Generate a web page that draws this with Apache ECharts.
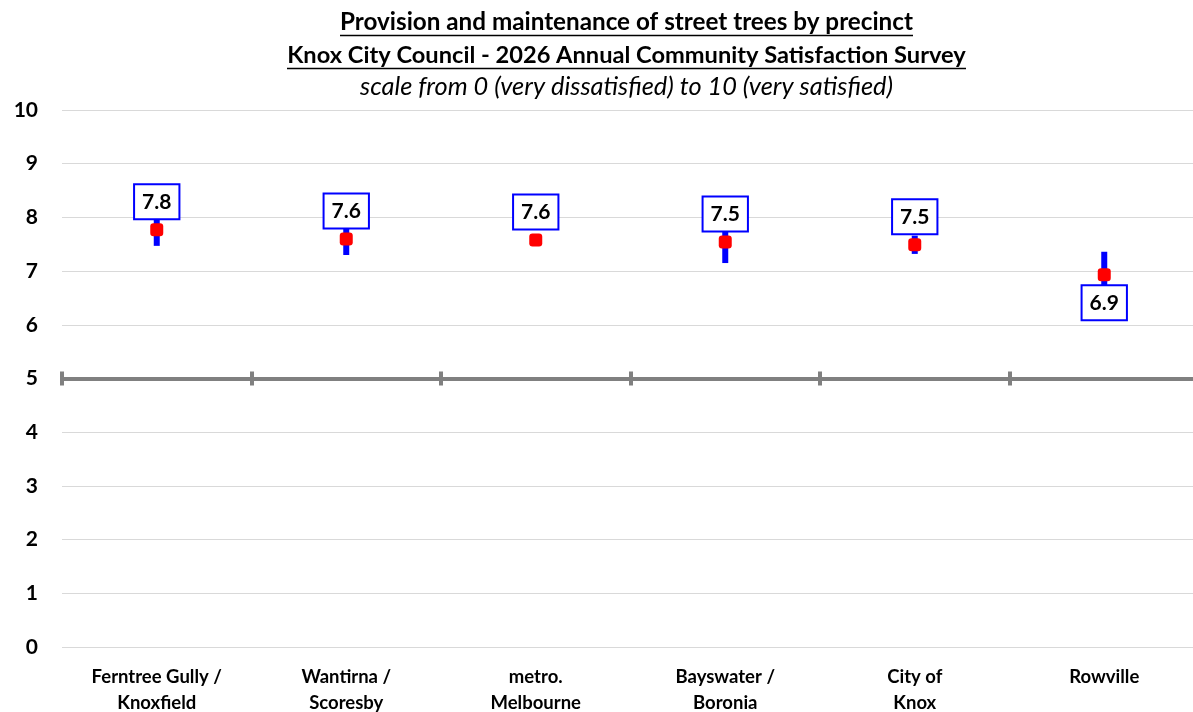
<!DOCTYPE html>
<html>
<head>
<meta charset="utf-8">
<script src="https://cdn.jsdelivr.net/npm/echarts@6/dist/echarts.min.js"></script>
<style>
html,body{margin:0;padding:0;background:#fff;}
#chart{width:1193px;height:712px;}
</style>
</head>
<body>
<div id="chart"></div>
<script>
// ---- data ----
const categories = ['Ferntree Gully /\nKnoxfield', 'Wantirna /\nScoresby', 'metro.\nMelbourne', 'Bayswater /\nBoronia', 'City of\nKnox', 'Rowville'];
const meanScores = [7.77, 7.60, 7.58, 7.54, 7.49, 6.93];
const lowerBounds = [7.47, 7.30, 7.53, 7.15, 7.32, 6.50];
const upperBounds = [8.07, 7.90, 7.63, 7.93, 7.66, 7.36];
const labelPlacement = ['top', 'top', 'top', 'top', 'top', 'bottom'];
const yMin = 0, yMax = 10, yInterval = 1;
const referenceValue = 5;
const titleLines = [
  'Provision and maintenance of street trees by precinct',
  'Knox City Council - 2026 Annual Community Satisfaction Survey',
  'scale from 0 (very dissatisfied) to 10 (very satisfied)'
];

// ---- layout ----
const FONT = 'Lato, "Open Sans", "DejaVu Sans", sans-serif';
const W = 1193, H = 712;
const gridLeft = 62, gridTop = 110, gridBottom = 65, gridRight = -6;
const plotH = H - gridTop - gridBottom;
const refOffset = -plotH * (referenceValue - yMin) / (yMax - yMin);

// fit title sizes to target widths
const ctx = document.createElement('canvas').getContext('2d');
function fitSize(text, weight, style, target) {
  ctx.font = style + ' ' + weight + ' 20px ' + FONT;
  const w = ctx.measureText(text).width;
  return 20 * target / w;
}
const titleCx = 626.5;
const titleSpecs = [
  {text: titleLines[0], weight: 'bold', style: 'normal', target: 573, cy: 22, underline: true},
  {text: titleLines[1], weight: 'bold', style: 'normal', target: 679, cy: 55, underline: true},
  {text: titleLines[2], weight: 'normal', style: 'italic', target: 533, cy: 87, underline: false}
];
const titleGraphics = [];
titleSpecs.forEach(s => {
  const fs = fitSize(s.text, s.weight, s.style, s.target);
  titleGraphics.push({
    type: 'text', x: titleCx, y: s.cy, z: 100,
    style: {
      text: s.text, fill: '#000',
      font: s.style + ' ' + s.weight + ' ' + fs.toFixed(2) + 'px ' + FONT,
      textAlign: 'center', textVerticalAlign: 'middle'
    }
  });
  if (s.underline) {
    const uy = Math.round(s.cy + fs * 0.55) + 0.5;
    titleGraphics.push({
      type: 'line', z: 100,
      shape: {x1: titleCx - s.target / 2, y1: uy, x2: titleCx + s.target / 2, y2: uy},
      style: {stroke: '#000', lineWidth: 1.3}
    });
  }
});

const chart = echarts.init(document.getElementById('chart'), null, {renderer: 'canvas'});

const refAxisBase = {
  type: 'category', data: categories, position: 'bottom', boundaryGap: true,
  offset: refOffset,
  axisLine: {show: true, onZero: false, lineStyle: {color: '#808080', width: 4}},
  axisLabel: {show: false},
  splitLine: {show: false}
};

const option = {
  backgroundColor: '#ffffff',
  animation: false,
  textStyle: {fontFamily: FONT},
  grid: {left: gridLeft, right: gridRight, top: gridTop, bottom: gridBottom, containLabel: false, outerBoundsMode: 'none'},
  graphic: titleGraphics,
  xAxis: [
    {
      type: 'category', data: categories, position: 'bottom', boundaryGap: true,
      axisLine: {show: false, onZero: false}, axisTick: {show: false},
      axisLabel: {
        interval: 0, margin: 17, color: '#000', fontFamily: FONT,
        fontWeight: 'bold', fontSize: 18.5, lineHeight: 26, align: 'center'
      },
      splitLine: {show: false}
    },
    Object.assign({}, refAxisBase, {
      axisTick: {show: true, inside: false, length: 7, interval: 0, lineStyle: {color: '#808080', width: 4}}
    }),
    Object.assign({}, refAxisBase, {
      axisTick: {show: true, inside: true, length: 7, interval: 0, lineStyle: {color: '#808080', width: 4}}
    })
  ],
  yAxis: {
    type: 'value', min: yMin, max: yMax, interval: yInterval,
    axisLine: {show: false}, axisTick: {show: false},
    axisLabel: {color: '#000', fontWeight: 'bold', fontSize: 21, margin: 24, fontFamily: FONT},
    splitLine: {show: true, lineStyle: {color: '#d9d9d9', width: 1}}
  },
  series: [
    {
      type: 'custom', name: 'range', xAxisIndex: 0, yAxisIndex: 0, z: 3,
      data: categories.map((c, i) => [i, lowerBounds[i], upperBounds[i]]),
      renderItem: function (params, api) {
        const lo = api.coord([api.value(0), api.value(1)]);
        const hi = api.coord([api.value(0), api.value(2)]);
        const w = 6;
        return {
          type: 'rect',
          shape: {x: lo[0] - w / 2, y: hi[1], width: w, height: lo[1] - hi[1]},
          style: {fill: '#0000ff'}
        };
      }
    },
    {
      type: 'scatter', name: 'mean', xAxisIndex: 0, yAxisIndex: 0, z: 5,
      symbol: 'roundRect', symbolSize: 13,
      itemStyle: {color: '#ff0000', opacity: 1},
      emphasis: {disabled: true},
      data: meanScores.map((v, i) => ({
        value: [i, v],
        label: {position: labelPlacement[i]}
      })),
      label: {
        show: true, distance: 5, opacity: 1,
        formatter: p => meanScores[p.dataIndex].toFixed(1),
        color: '#000', fontFamily: FONT, fontWeight: 'bold', fontSize: 21, lineHeight: 22,
        backgroundColor: '#ffffff', borderColor: '#0000ff', borderWidth: 2,
        padding: [6, 7, 5, 7]
      }
    }
  ]
};
chart.setOption(option);
</script>
</body>
</html>
